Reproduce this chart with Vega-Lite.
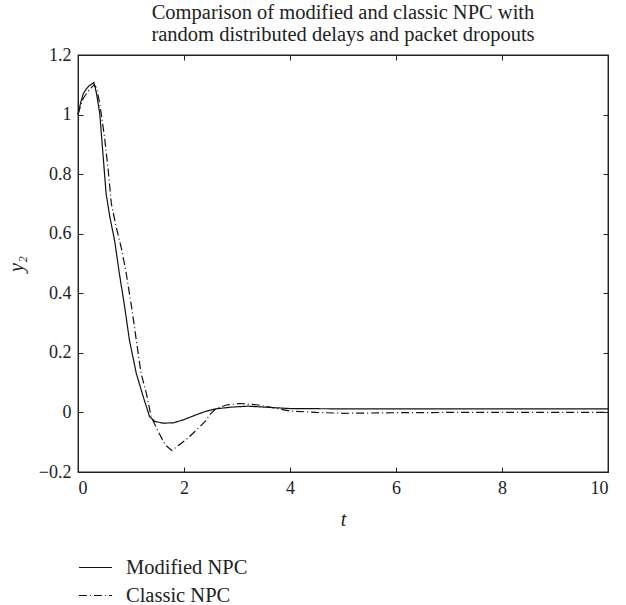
{
  "$schema": "https://vega.github.io/schema/vega-lite/v6.json",
  "width": 530,
  "height": 417,
  "autosize": {"type": "none"},
  "padding": {"left": 78, "top": 55, "right": 18, "bottom": 133},
  "background": "white",
  "title": {
    "text": ["Comparison of modified and classic NPC with", "random distributed delays and packet dropouts"],
    "font": "Liberation Serif",
    "fontSize": 20.5,
    "fontWeight": "normal",
    "color": "#222",
    "anchor": "middle",
    "lineHeight": 22,
    "offset": 1
  },
  "config": {
    "view": {"stroke": "#222", "strokeWidth": 1.3}
  },
  "data": {
    "values": [
      {"t": 0, "y": 1.0, "s": "Modified NPC"},
      {"t": 0.05, "y": 1.04, "s": "Modified NPC"},
      {"t": 0.1, "y": 1.07, "s": "Modified NPC"},
      {"t": 0.15, "y": 1.085, "s": "Modified NPC"},
      {"t": 0.2, "y": 1.095, "s": "Modified NPC"},
      {"t": 0.3, "y": 1.108, "s": "Modified NPC"},
      {"t": 0.35, "y": 1.07, "s": "Modified NPC"},
      {"t": 0.41, "y": 1.004, "s": "Modified NPC"},
      {"t": 0.47, "y": 0.87, "s": "Modified NPC"},
      {"t": 0.53, "y": 0.735, "s": "Modified NPC"},
      {"t": 0.6, "y": 0.657, "s": "Modified NPC"},
      {"t": 0.69, "y": 0.578, "s": "Modified NPC"},
      {"t": 0.78, "y": 0.467, "s": "Modified NPC"},
      {"t": 0.88, "y": 0.355, "s": "Modified NPC"},
      {"t": 0.97, "y": 0.243, "s": "Modified NPC"},
      {"t": 1.1, "y": 0.131, "s": "Modified NPC"},
      {"t": 1.23, "y": 0.053, "s": "Modified NPC"},
      {"t": 1.35, "y": -0.014, "s": "Modified NPC"},
      {"t": 1.45, "y": -0.03, "s": "Modified NPC"},
      {"t": 1.6, "y": -0.036, "s": "Modified NPC"},
      {"t": 1.8, "y": -0.035, "s": "Modified NPC"},
      {"t": 2.0, "y": -0.024, "s": "Modified NPC"},
      {"t": 2.2, "y": -0.01, "s": "Modified NPC"},
      {"t": 2.4, "y": 0.003, "s": "Modified NPC"},
      {"t": 2.6, "y": 0.012, "s": "Modified NPC"},
      {"t": 2.9, "y": 0.018, "s": "Modified NPC"},
      {"t": 3.2, "y": 0.021, "s": "Modified NPC"},
      {"t": 3.6, "y": 0.017, "s": "Modified NPC"},
      {"t": 4.0, "y": 0.013, "s": "Modified NPC"},
      {"t": 5, "y": 0.012, "s": "Modified NPC"},
      {"t": 6, "y": 0.012, "s": "Modified NPC"},
      {"t": 8, "y": 0.012, "s": "Modified NPC"},
      {"t": 10, "y": 0.012, "s": "Modified NPC"},
      {"t": 0, "y": 1.0, "s": "Classic NPC"},
      {"t": 0.05, "y": 1.03, "s": "Classic NPC"},
      {"t": 0.1, "y": 1.055, "s": "Classic NPC"},
      {"t": 0.2, "y": 1.08, "s": "Classic NPC"},
      {"t": 0.3, "y": 1.1, "s": "Classic NPC"},
      {"t": 0.35, "y": 1.09, "s": "Classic NPC"},
      {"t": 0.41, "y": 1.037, "s": "Classic NPC"},
      {"t": 0.5, "y": 0.925, "s": "Classic NPC"},
      {"t": 0.57, "y": 0.813, "s": "Classic NPC"},
      {"t": 0.63, "y": 0.7, "s": "Classic NPC"},
      {"t": 0.72, "y": 0.623, "s": "Classic NPC"},
      {"t": 0.82, "y": 0.55, "s": "Classic NPC"},
      {"t": 0.91, "y": 0.467, "s": "Classic NPC"},
      {"t": 1.01, "y": 0.355, "s": "Classic NPC"},
      {"t": 1.1, "y": 0.243, "s": "Classic NPC"},
      {"t": 1.19, "y": 0.131, "s": "Classic NPC"},
      {"t": 1.29, "y": 0.064, "s": "Classic NPC"},
      {"t": 1.38, "y": -0.014, "s": "Classic NPC"},
      {"t": 1.5, "y": -0.06, "s": "Classic NPC"},
      {"t": 1.65, "y": -0.11, "s": "Classic NPC"},
      {"t": 1.77, "y": -0.128, "s": "Classic NPC"},
      {"t": 1.9, "y": -0.11, "s": "Classic NPC"},
      {"t": 2.05, "y": -0.09, "s": "Classic NPC"},
      {"t": 2.2, "y": -0.065, "s": "Classic NPC"},
      {"t": 2.4, "y": -0.03, "s": "Classic NPC"},
      {"t": 2.5, "y": -0.005, "s": "Classic NPC"},
      {"t": 2.6, "y": 0.012, "s": "Classic NPC"},
      {"t": 2.8, "y": 0.025, "s": "Classic NPC"},
      {"t": 3.05, "y": 0.03, "s": "Classic NPC"},
      {"t": 3.4, "y": 0.025, "s": "Classic NPC"},
      {"t": 3.7, "y": 0.015, "s": "Classic NPC"},
      {"t": 4.0, "y": 0.005, "s": "Classic NPC"},
      {"t": 4.5, "y": 0.0, "s": "Classic NPC"},
      {"t": 5, "y": -0.003, "s": "Classic NPC"},
      {"t": 6, "y": -0.001, "s": "Classic NPC"},
      {"t": 7, "y": 0.0, "s": "Classic NPC"},
      {"t": 10, "y": 0.0, "s": "Classic NPC"}
    ]
  },
  "layer": [
    {
      "mark": {"type": "line", "color": "#111", "strokeWidth": 1.2},
      "encoding": {
        "x": {"field": "t", "type": "quantitative", "scale": {"domain": [0, 10], "nice": false},
          "axis": {"title": "t", "values": [0, 2, 4, 6, 8, 10], "titlePadding": 12,
            "grid": false, "domainColor": "#222", "tickColor": "#222", "tickSize": -5, "labelPadding": 12,
            "labelFont": "Liberation Serif", "labelFontSize": 18, "labelColor": "#222",
            "titleFont": "Liberation Serif", "titleFontSize": 20, "titleFontStyle": "italic", "titleFontWeight": "normal", "titleColor": "#222"}},
        "y": {"field": "y", "type": "quantitative", "scale": {"domain": [-0.2, 1.2], "nice": false, "zero": false},
          "axis": {"title": "y₂", "values": [-0.2, 0, 0.2, 0.4, 0.6, 0.8, 1, 1.2], "format": "~g", "titlePadding": 12,
            "grid": false, "domainColor": "#222", "tickColor": "#222", "tickSize": -5, "labelPadding": 12,
            "labelFont": "Liberation Serif", "labelFontSize": 18, "labelColor": "#222",
            "titleFont": "Liberation Serif", "titleFontSize": 20, "titleFontStyle": "italic", "titleFontWeight": "normal", "titleColor": "#222"}},
        "strokeDash": {
          "field": "s", "type": "nominal",
          "scale": {"domain": ["Modified NPC", "Classic NPC"], "range": [[1, 0], [8, 3, 1, 3]]},
          "legend": {
            "title": null,
            "orient": "none",
            "legendX": 0,
            "legendY": 495,
            "symbolType": "stroke",
            "symbolSize": 1100,
            "symbolStrokeColor": "#111",
            "symbolStrokeWidth": 1.2,
            "labelFont": "Liberation Serif",
            "labelFontSize": 20.5,
            "labelColor": "#222",
            "labelOffset": 13,
            "rowPadding": -9
          }
        },
        "detail": {"field": "s"}
      }
    },
    {
      "mark": {"type": "line", "strokeOpacity": 0},
      "encoding": {
        "x": {"field": "t", "type": "quantitative", "scale": {"domain": [0, 10], "nice": false},
          "axis": {"orient": "top", "title": null, "labels": false, "values": [0, 2, 4, 6, 8, 10], "grid": false, "domainColor": "#222", "tickColor": "#222", "tickSize": -5}},
        "y": {"field": "y", "type": "quantitative", "scale": {"domain": [-0.2, 1.2], "nice": false, "zero": false},
          "axis": {"orient": "right", "title": null, "labels": false, "values": [-0.2, 0, 0.2, 0.4, 0.6, 0.8, 1, 1.2], "grid": false, "domainColor": "#222", "tickColor": "#222", "tickSize": -5}},
        "detail": {"field": "s"}
      }
    }
  ],
  "resolve": {"axis": {"x": "independent", "y": "independent"}}
}
